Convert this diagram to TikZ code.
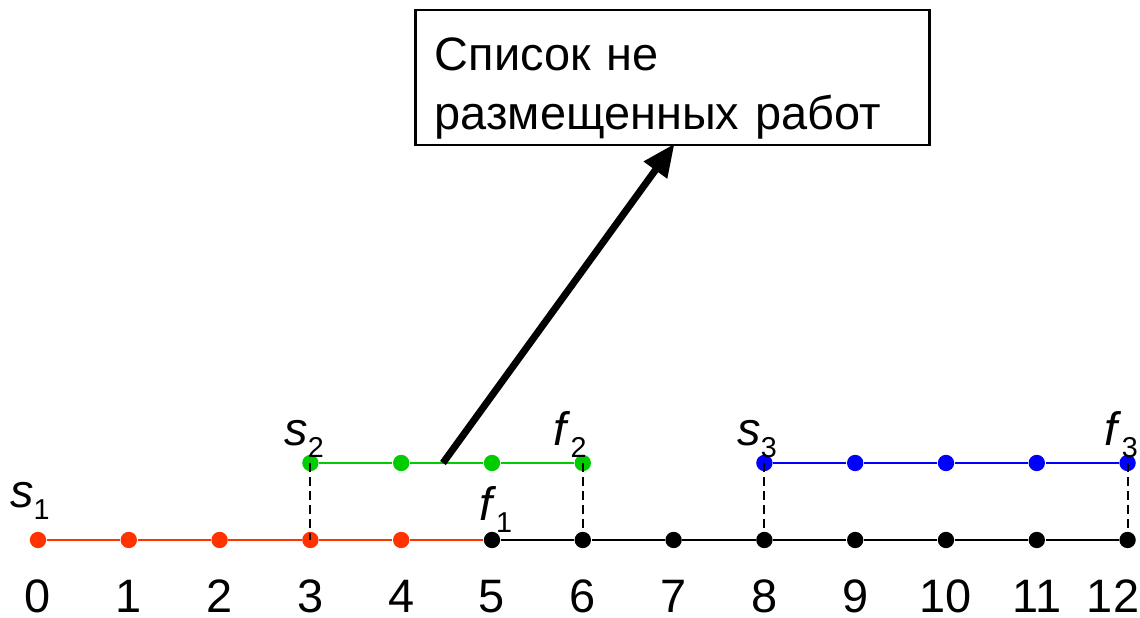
\documentclass[tikz,border=0pt]{standalone}
\usepackage{fontspec}
\setmainfont{Liberation Sans}
\usepackage{xcolor}
\usepackage{tikz}
\usetikzlibrary{positioning, arrows.meta, calc}
\definecolor{JobRed}{HTML}{FF3300}
\definecolor{JobGreen}{HTML}{00CC00}
\definecolor{JobBlue}{HTML}{0000FF}
\newcommand{\tlbl}[2]{\textit{#1}\raisebox{-4pt}{\fontsize{9}{10}\selectfont #2}}

\begin{document}
\begin{tikzpicture}[
  >=stealth,
  dot/.style={circle, inner sep=0pt, minimum size=0.18cm},
  tline/.style={line width=0.7pt},
  dashln/.style={line width=0.6pt, dash pattern=on 2.8pt off 1.6pt},
  num/.style={font=\fontsize{14.7}{16}\selectfont, inner sep=0pt},
  lbl/.style={font=\fontsize{14.7}{16}\selectfont, inner sep=0pt, anchor=base},
  listbox/.style={draw, line width=0.8pt, minimum width=5.66cm, minimum height=1.487cm,
                  text width=5.24cm, inner xsep=0.21cm, inner ysep=0pt, align=left,
                  font=\fontsize{14.7}{18.5}\selectfont},
]
  \useasboundingbox (-0.4185,-0.859) rectangle (12.137,5.947);

% ===== Lower axis : job 1 (red) then the free time =====
  \node[dot, fill=JobRed] (a0) at (0,0) {};
  \node[dot, fill=JobRed] (a1) at (1,0) {};
  \node[dot, fill=JobRed] (a2) at (2,0) {};
  \node[dot, fill=JobRed] (a3) at (3,0) {};
  \node[dot, fill=JobRed] (a4) at (4,0) {};
  \node[dot, fill=black] (a5) at (5,0) {};
  \node[dot, fill=black] (a6) at (6,0) {};
  \node[dot, fill=black] (a7) at (7,0) {};
  \node[dot, fill=black] (a8) at (8,0) {};
  \node[dot, fill=black] (a9) at (9,0) {};
  \node[dot, fill=black] (a10) at (10,0) {};
  \node[dot, fill=black] (a11) at (11,0) {};
  \node[dot, fill=black] (a12) at (12,0) {};
  \draw[tline, JobRed] (a0) -- (a1) -- (a2) -- (a3) -- (a4) -- (a5);
  \draw[tline] (a5) -- (a6) -- (a7) -- (a8) -- (a9) -- (a10) -- (a11) -- (a12);

% ===== Upper row : job 2 (green), job 3 (blue) =====
  \node[dot, fill=JobGreen] (g3) at (3,0.848) {};
  \node[dot, fill=JobGreen] (g4) at (4,0.848) {};
  \node[dot, fill=JobGreen] (g5) at (5,0.848) {};
  \node[dot, fill=JobGreen] (g6) at (6,0.848) {};
  \node[dot, fill=JobBlue] (b8) at (8,0.848) {};
  \node[dot, fill=JobBlue] (b9) at (9,0.848) {};
  \node[dot, fill=JobBlue] (b10) at (10,0.848) {};
  \node[dot, fill=JobBlue] (b11) at (11,0.848) {};
  \node[dot, fill=JobBlue] (b12) at (12,0.848) {};
  \draw[tline, JobGreen] (g3) -- (g4) -- (g5) -- (g6);
  \draw[tline, JobBlue] (b8) -- (b9) -- (b10) -- (b11) -- (b12);
  \draw[dashln] (g3.center) -- (a3.center);
  \draw[dashln] (g6.center) -- (a6.center);
  \draw[dashln] (b8.center) -- (a8.center);
  \draw[dashln] (b12.center) -- (a12.center);

% ===== Start / finish labels =====
  \node[lbl] (s1) at ([xshift=-0.09cm, yshift=0.363cm]a0.center) {\tlbl{s}{1}};
  \node[lbl] (f1) at ([xshift=0.04cm, yshift=0.22cm]a5.center) {\tlbl{f}{1}};
  \node[lbl] (s2) at ([xshift=-0.07cm, yshift=0.198cm]g3.center) {\tlbl{s}{2}};
  \node[lbl] (f2) at ([xshift=-0.14cm, yshift=0.198cm]g6.center) {\tlbl{f}{2}};
  \node[lbl] (s3) at ([xshift=-0.08cm, yshift=0.198cm]b8.center) {\tlbl{s}{3}};
  \node[lbl] (f3) at ([xshift=-0.07cm, yshift=0.198cm]b12.center) {\tlbl{f}{3}};

% ===== Time scale =====
  \node[num] (n0) at (0,-0.62) {0};
  \node[num] (n1) at (1,-0.62) {1};
  \node[num] (n2) at (2,-0.62) {2};
  \node[num] (n3) at (3,-0.62) {3};
  \node[num] (n4) at (4,-0.62) {4};
  \node[num] (n5) at (5,-0.62) {5};
  \node[num] (n6) at (6,-0.62) {6};
  \node[num] (n7) at (7,-0.62) {7};
  \node[num] (n8) at (8,-0.62) {8};
  \node[num] (n9) at (9,-0.62) {9};
  \node[num] (n10) at (10,-0.62) {10};
  \node[num] (n11) at (11,-0.62) {11};
  \node[num] (n12) at (11.84,-0.62) {12};

% ===== List of unplaced jobs =====
  \node[listbox] (list) at (6.99,5.094) {\rule{0pt}{17pt}Список не\\размещенных работ};
  \coordinate (foot) at (4.46,0.848);
  \draw[-{Triangle[length=0.36cm, width=0.3cm]}, line width=2.2pt, shorten >=-1pt] (foot) -- (list.south);

\end{tikzpicture}
\end{document}
